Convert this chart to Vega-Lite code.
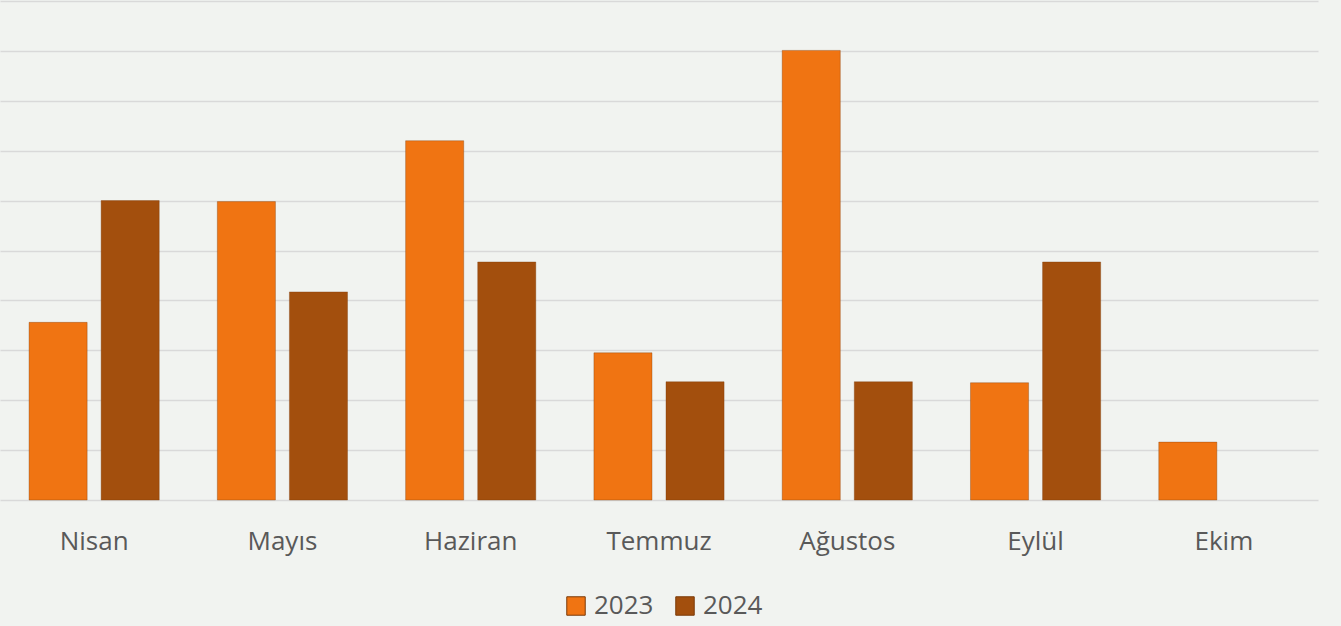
{
  "$schema": "https://vega.github.io/schema/vega-lite/v6.json",
  "width": 1318,
  "height": 499,
  "autosize": {"type": "none"},
  "padding": {"left": 0, "top": 1, "right": 23, "bottom": 126},
  "background": "#f1f3f0",
  "config": {
    "view": {"stroke": null},
    "font": "Open Sans"
  },
  "data": {
    "values": [
      {"month": "Nisan", "year": "2023", "value": 3.56},
      {"month": "Nisan", "year": "2024", "value": 6.0},
      {"month": "Mayıs", "year": "2023", "value": 5.98},
      {"month": "Mayıs", "year": "2024", "value": 4.17},
      {"month": "Haziran", "year": "2023", "value": 7.2},
      {"month": "Haziran", "year": "2024", "value": 4.77},
      {"month": "Temmuz", "year": "2023", "value": 2.95},
      {"month": "Temmuz", "year": "2024", "value": 2.37},
      {"month": "Ağustos", "year": "2023", "value": 9.01},
      {"month": "Ağustos", "year": "2024", "value": 2.37},
      {"month": "Eylül", "year": "2023", "value": 2.35},
      {"month": "Eylül", "year": "2024", "value": 4.77},
      {"month": "Ekim", "year": "2023", "value": 1.16}
    ]
  },
  "mark": {"type": "bar", "stroke": "#7a3a08", "strokeOpacity": 0.35, "strokeWidth": 1},
  "encoding": {
    "x": {
      "field": "month",
      "type": "nominal",
      "sort": ["Nisan", "Mayıs", "Haziran", "Temmuz", "Ağustos", "Eylül", "Ekim"],
      "scale": {"paddingInner": 0, "paddingOuter": 0},
      "axis": {
        "title": null,
        "domain": false,
        "ticks": false,
        "labelAngle": 0,
        "labelFontSize": 26,
        "labelColor": "#595959",
        "labelPadding": 28,
        "labelFont": "Open Sans"
      }
    },
    "xOffset": {
      "field": "year",
      "type": "nominal",
      "scale": {"paddingInner": 0.194, "paddingOuter": 0.403}
    },
    "y": {
      "field": "value",
      "type": "quantitative",
      "scale": {"domain": [0, 10], "nice": false},
      "axis": {
        "title": null,
        "labels": false,
        "ticks": false,
        "domain": false,
        "values": [0, 1, 2, 3, 4, 5, 6, 7, 8, 9, 10],
        "gridColor": "#d9d9d9",
        "gridWidth": 1.5
      }
    },
    "color": {
      "field": "year",
      "type": "nominal",
      "scale": {"domain": ["2023", "2024"], "range": ["#f07412", "#a34f0d"]},
      "legend": {
        "title": null,
        "orient": "none",
        "direction": "horizontal",
        "legendX": 563,
        "legendY": 592,
        "padding": 0,
        "symbolType": "square",
        "symbolSize": 340,
        "symbolStrokeWidth": 1,
        "labelFontSize": 26,
        "labelColor": "#595959",
        "labelOffset": 5,
        "columnPadding": 18,
        "labelFont": "Open Sans"
      }
    }
  }
}
